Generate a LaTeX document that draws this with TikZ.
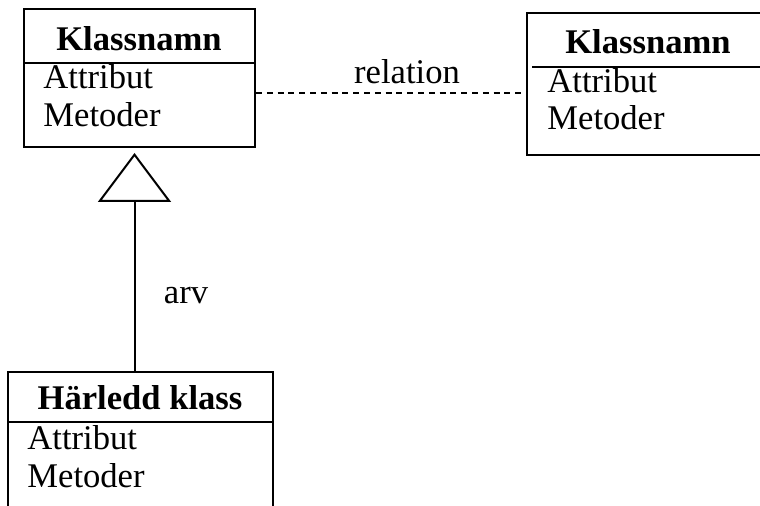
\documentclass[tikz,border=0pt]{standalone}
\usepackage{fontspec}
\setmainfont{Liberation Serif}
\usepackage{tikz}
\usetikzlibrary{arrows.meta}
\usepackage{xcolor}

\begin{document}
\begin{tikzpicture}[x=0.5pt,y=-0.5pt,
  klassbox/.style={draw,line width=1pt,inner sep=0,anchor=north west},
  rubrik/.style={inner sep=0,anchor=base,font=\fontsize{17.3}{21}\selectfont\bfseries},
  rad/.style={inner sep=0,anchor=base west,font=\fontsize{17.3}{21}\selectfont},
  etikett/.style={inner sep=0,anchor=base,font=\fontsize{17.3}{21}\selectfont}]
  \useasboundingbox (0,0) rectangle (760,506);

  % klasser
  \node[klassbox,minimum width=115.5pt,minimum height=69pt] (k1) at (23,8) {};
  \node[klassbox,minimum width=132pt,minimum height=71pt] (k2) at (526,12) {};
  \node[klassbox,minimum width=132.5pt,minimum height=90pt] (k3) at (7,371) {};

  \draw[line width=1pt] (k1.west |- 0,63) -- (k1.east |- 0,63);
  \draw[line width=1pt] (532,67) -- (k2.east |- 0,67);
  \draw[line width=1pt] (k3.west |- 0,422) -- (k3.east |- 0,422);

  \node[rubrik] (k1namn) at (139,51) {Klassnamn};
  \node[rad] (k1attr) at (43,89) {Attribut};
  \node[rad] (k1met) at (43,127) {Metoder};

  \node[rubrik] (k2namn) at (648,54) {Klassnamn};
  \node[rad] (k2attr) at (547,93) {Attribut};
  \node[rad] (k2met) at (547,130) {Metoder};

  \node[rubrik] (k3namn) at (140,410) {Härledd klass};
  \node[rad] (k3attr) at (27,450) {Attribut};
  \node[rad] (k3met) at (27,488) {Metoder};

  % relation
  \coordinate (relhojd) at (0,93);
  \draw[line width=0.6pt,dash pattern=on 3pt off 2.4pt] (k1.east |- relhojd) -- (k2.west |- relhojd);
  \node[etikett] (relnamn) at (407,84) {relation};

  % arv
  \coordinate (spets) at (134.5,153);
  \draw[line width=1pt,-{Triangle[open,length=24.5pt,width=36.5pt]}] (spets |- k3.north) -- (spets);
  \node[etikett] (arvnamn) at (186,304) {arv};

\end{tikzpicture}
\end{document}
